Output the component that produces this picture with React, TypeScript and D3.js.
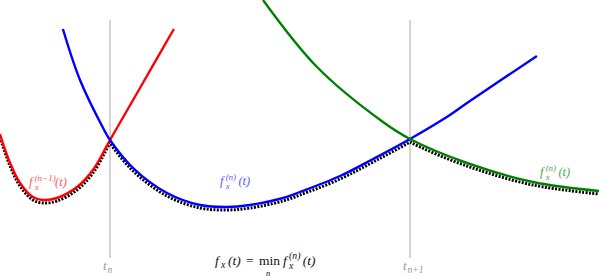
import { line, curveCatmullRom, scaleLinear } from "d3";

// t positions of the two grid marks
const tMarks = [1, 2];
const tLabels = ["n", "n+1"];

// f_x^(n-1)(t)
const redT = [0.633, 0.667, 0.7, 0.743, 0.777, 0.823, 0.89, 0.943, 1.0, 1.1, 1.213];
const redF = [1.26, 0.97, 0.77, 0.63, 0.6, 0.62, 0.73, 0.9, 1.2, 1.72, 2.31];

// f_x^(n)(t)
const blueT = [0.843, 0.9, 0.977, 1.0, 1.077, 1.19, 1.3, 1.39, 1.467, 1.577, 1.633, 1.767, 1.877, 2.0, 2.133, 2.19, 2.423];
const blueF = [2.31, 1.8, 1.32, 1.2, 0.92, 0.67, 0.55, 0.53, 0.55, 0.62, 0.68, 0.84, 1.01, 1.21, 1.45, 1.57, 2.04];

// f_x^(n+1)(t)
const greenT = [1.51, 1.69, 1.91, 2.0, 2.19, 2.41, 2.63];
const greenF = [2.6, 1.93, 1.38, 1.21, 0.97, 0.78, 0.69];

const W = 599;
const H = 277;
const FONT = "'Liberation Serif', 'DejaVu Serif', serif";

type Pt = [number, number];
const zip = (ts: number[], fs: number[]): Pt[] => ts.map((t, i) => [t, fs[i]]);

interface FxProps {
  x: number;
  y: number;
  sup?: string;
  size: number;
  color: string;
}

// f_x^{sup}(t) with stacked sub/superscript
const Fx: React.FC<FxProps> = ({ x, y, sup, size, color }) => {
  const s = size * 0.72;
  const scriptX = x + size * 0.45;
  const scriptW = Math.max(s * 0.55, sup ? sup.length * s * 0.42 : 0);
  return (
    <g fill={color} fontFamily={FONT} fontStyle="italic">
      <text x={x} y={y} fontSize={size}>f</text>
      <text x={scriptX} y={y + size * (sup ? 0.3 : 0.22)} fontSize={s}>x</text>
      {sup && <text x={scriptX} y={y - size * 0.42} fontSize={s}>{sup}</text>}
      <text x={scriptX + scriptW + 1.5} y={y} fontSize={size}>(t)</text>
    </g>
  );
};

export default function App() {
  const x = scaleLinear().domain([1, 2]).range([110, 410]);
  const y = scaleLinear().domain([0, 2.6]).range([260, 0]);

  const path = line<Pt>()
    .x((d) => x(d[0]))
    .y((d) => y(d[1]))
    .curve(curveCatmullRom.alpha(0.5));

  const red = path(zip(redT, redF)) ?? "";
  const blue = path(zip(blueT, blueF)) ?? "";
  const green = path(zip(greenT, greenF)) ?? "";

  // lower envelope: each curve clipped to the interval where it is the minimum
  const envelope = [
    { id: "clip-red", d: red, x0: 0, x1: x(tMarks[0]) },
    { id: "clip-blue", d: blue, x0: x(tMarks[0]), x1: x(tMarks[1]) },
    { id: "clip-green", d: green, x0: x(tMarks[1]), x1: W },
  ];

  return (
    <svg width={W} height={H} style={{ position: "absolute", left: 0, top: 0, background: "#fff" }}>
      <defs>
        {envelope.map((e) => (
          <clipPath key={e.id} id={e.id}>
            <rect x={e.x0} y={-10} width={e.x1 - e.x0} height={H + 20} />
          </clipPath>
        ))}
      </defs>

      {tMarks.map((t, i) => (
        <g key={`mark-${i}`} fill="#999" fontFamily={FONT} fontStyle="italic">
          <line x1={x(t)} x2={x(t)} y1={y(2.4)} y2={y(0.02)} stroke="#aaa" strokeWidth={1} />
          <text x={x(t) - 7} y={270} fontSize={13}>t</text>
          <text x={x(t) - 2.5} y={273} fontSize={9.5}>{tLabels[i]}</text>
        </g>
      ))}

      <g transform="translate(0, 3)">
        {envelope.map((e) => (
          <path key={`env-${e.id}`} d={e.d} clipPath={`url(#${e.id})`} fill="none"
            stroke="#000" strokeWidth={3} strokeDasharray="2 1.4" />
        ))}
      </g>

      <path d={red} fill="none" stroke="#ff0000" strokeWidth={2.4} />
      <path d={blue} fill="none" stroke="#0000ff" strokeWidth={2.4} />
      <path d={green} fill="none" stroke="#008000" strokeWidth={2.4} />

      <Fx x={29} y={186} sup="(n−1)" size={12.5} color="#ff5a5a" />
      <Fx x={220} y={185} sup="(n)" size={12.5} color="#5a5aff" />
      <Fx x={540} y={176} sup="(n)" size={12.5} color="#4ca64c" />

      {/* f_x(t) = min_n f_x^(n)(t) */}
      <g fill="#111" fontFamily={FONT} fontSize={13.5}>
        <Fx x={215} y={265} size={13.5} color="#111" />
        <text x={246} y={265}>=</text>
        <text x={259} y={265}>min</text>
        <text x={266} y={275.5} fontSize={8.5} fontStyle="italic">n</text>
        <Fx x={283} y={265} sup="(n)" size={13.5} color="#111" />
      </g>
    </svg>
  );
}
